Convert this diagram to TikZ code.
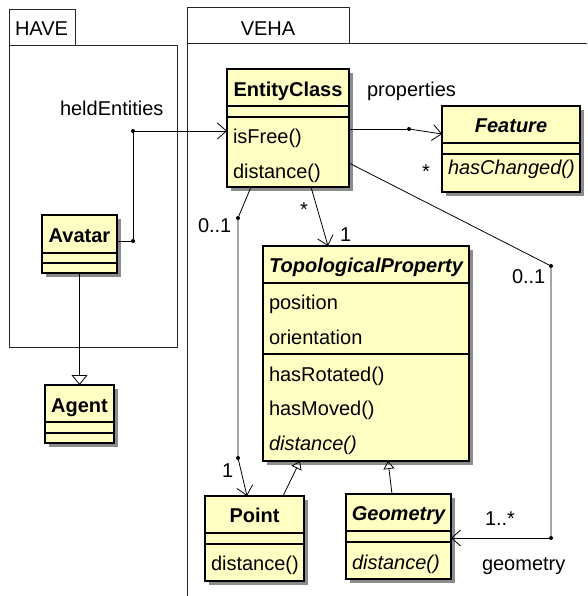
\documentclass[tikz,border=0pt]{standalone}
\usepackage{fontspec}
\setmainfont{Liberation Sans}
\usetikzlibrary{arrows.meta,shadows}
\definecolor{classyellow}{RGB}{255,255,196}

\begin{document}
\begin{tikzpicture}[x=1pt,y=-1pt]
    \tikzstyle{every node}=[inner sep=0pt,outer sep=0pt,font=\fontsize{20}{24}\selectfont]
    \tikzstyle{package}=[draw=black!85,line width=0.8pt]
    \tikzstyle{class}=[draw,line width=1.3pt,fill=classyellow,anchor=north west,
                       general shadow={fill=black!45,shadow xshift=4pt,shadow yshift=-4pt}]
    \tikzstyle{sep}=[line width=1.3pt]
    \tikzstyle{classname}=[anchor=base,font=\fontsize{20}{24}\selectfont\bfseries]
    \tikzstyle{abstractname}=[classname,font=\fontsize{20}{24}\selectfont\bfseries\itshape]
    \tikzstyle{member}=[anchor=base west]
    \tikzstyle{role}=[anchor=base west]
    \tikzstyle{joint}=[circle,fill=black,minimum size=4pt]
    \tikzstyle{assoc}=[line width=0.8pt,-{Straight Barb[length=9pt,width=16pt]}]
    \tikzstyle{link}=[line width=0.8pt]
    \tikzstyle{inherit}=[line width=0.8pt,-{Triangle[open,length=10pt,width=16pt]}]
    \tikzstyle{realize}=[line width=0.8pt,-{Triangle[open,length=8pt,width=11pt]}]

    \useasboundingbox (0,0) rectangle (587,596);

    % The two packages: a tab with the name on top of the body
    \draw[package] (9,9) rectangle (75,45);
    \draw[package] (9,45) rectangle (177,347);
    \node[anchor=base west] (have) at (15,36) {HAVE};
    \draw[package] (187,7) rectangle (349,43);
    \draw[package] (187,596) -- (187,43) -- (587,43);
    \node[anchor=base] (veha) at (268,36) {VEHA};

    % Classes of HAVE
    \node[class,minimum width=75pt,minimum height=58pt] (avatar) at (42,215) {};
    \node[classname] at (avatar.north |- 0,242) {Avatar};
    \draw[sep] (avatar.west |- 0,253) -- (avatar.east |- 0,253);
    \draw[sep] (avatar.west |- 0,263) -- (avatar.east |- 0,263);

    \node[class,minimum width=69pt,minimum height=58pt] (agent) at (45,385) {};
    \node[classname] at (agent.north |- 0,412) {Agent};
    \draw[sep] (agent.west |- 0,422) -- (agent.east |- 0,422);
    \draw[sep] (agent.west |- 0,433) -- (agent.east |- 0,433);

    % Classes of VEHA
    \node[class,minimum width=122pt,minimum height=118pt] (entity) at (227,69) {};
    \node[classname] at (entity.north |- 0,97) {EntityClass};
    \draw[sep] (entity.west |- 0,106) -- (entity.east |- 0,106);
    \draw[sep] (entity.west |- 0,117) -- (entity.east |- 0,117);
    \node[member] at (233,144) {isFree()};
    \node[member] at (233,178) {distance()};

    \node[class,minimum width=138pt,minimum height=86pt] (feature) at (442,106) {};
    \node[abstractname] at (feature.north |- 0,133) {Feature};
    \draw[sep] (feature.west |- 0,143) -- (feature.east |- 0,143);
    \draw[sep] (feature.west |- 0,154) -- (feature.east |- 0,154);
    \node[member] at (448,174) {\itshape hasChanged()};

    \node[class,minimum width=206pt,minimum height=215pt] (topo) at (263,246) {};
    \node[abstractname] at (topo.north |- 0,272) {TopologicalProperty};
    \draw[sep] (topo.west |- 0,283) -- (topo.east |- 0,283);
    \node[member] at (269,309) {position};
    \node[member] at (269,344) {orientation};
    \draw[sep] (topo.west |- 0,354) -- (topo.east |- 0,354);
    \node[member] at (269,381) {hasRotated()};
    \node[member] at (269,415) {hasMoved()};
    \node[member] at (269,450) {\itshape distance()};

    \node[class,minimum width=99pt,minimum height=85pt] (point) at (205,496) {};
    \node[classname] at (point.north |- 0,522) {Point};
    \draw[sep] (point.west |- 0,533) -- (point.east |- 0,533);
    \draw[sep] (point.west |- 0,544) -- (point.east |- 0,544);
    \node[member] at (211,570) {distance()};

    \node[class,minimum width=105pt,minimum height=85pt] (geometry) at (346,494) {};
    \node[abstractname] at (geometry.north |- 0,520) {Geometry};
    \draw[sep] (geometry.west |- 0,531) -- (geometry.east |- 0,531);
    \draw[sep] (geometry.west |- 0,542) -- (geometry.east |- 0,542);
    \node[member] at (352,569) {\itshape distance()};

    % Bend points of the associations
    \node[joint] (held1) at (133,241) {};
    \node[joint] (held2) at (133,131) {};
    \node[joint] (prop) at (409,129) {};
    \node[joint] (pt1) at (238,218) {};
    \node[joint] (pt2) at (238,458) {};
    \node[joint] (geo1) at (551,266) {};
    \node[joint] (geo2) at (551,538) {};

    % Associations
    \draw[link] (avatar.east |- held1) -- (held1) -- (held2);
    \draw[assoc] (held2) -- (entity.west |- held2);
    \draw[link] (entity.east |- prop) -- (prop);
    \draw[assoc] (prop) -- (feature.west |- 0,134);
    \draw[assoc] (311,0 |- entity.south) -- (328,0 |- topo.north);
    \draw[link] (251,0 |- entity.south) -- (pt1) -- (pt2);
    \draw[assoc] (pt2) -- (247,0 |- point.north);
    \draw[link] (entity.east |- 0,163) -- (geo1) -- (geo2);
    \draw[assoc] (geo2) -- (geometry.east |- geo2);

    % Generalizations
    \draw[inherit] (avatar.south) -- (avatar.south |- agent.north);
    \draw[realize] (283,0 |- point.north) -- (300,0 |- topo.south);
    \draw[realize] (392,0 |- geometry.north) -- (388,0 |- topo.south);

    % Role names and multiplicities
    \node[role] (heldname) at (60,116) {heldEntities};
    \node[role] (propname) at (367,97) {properties};
    \node[role] (propmult) at (422,178) {*};
    \node[role] (entitymult) at (300,216) {*};
    \node[role] (topomult) at (340,241) {1};
    \node[role] (ptzero) at (198,232) {0..1};
    \node[role] (ptone) at (222,477) {1};
    \node[role] (geozero) at (512,283) {0..1};
    \node[role] (geomany) at (485,525) {1..*};
    \node[role] (geoname) at (482,570) {geometry};

\end{tikzpicture}
\end{document}
